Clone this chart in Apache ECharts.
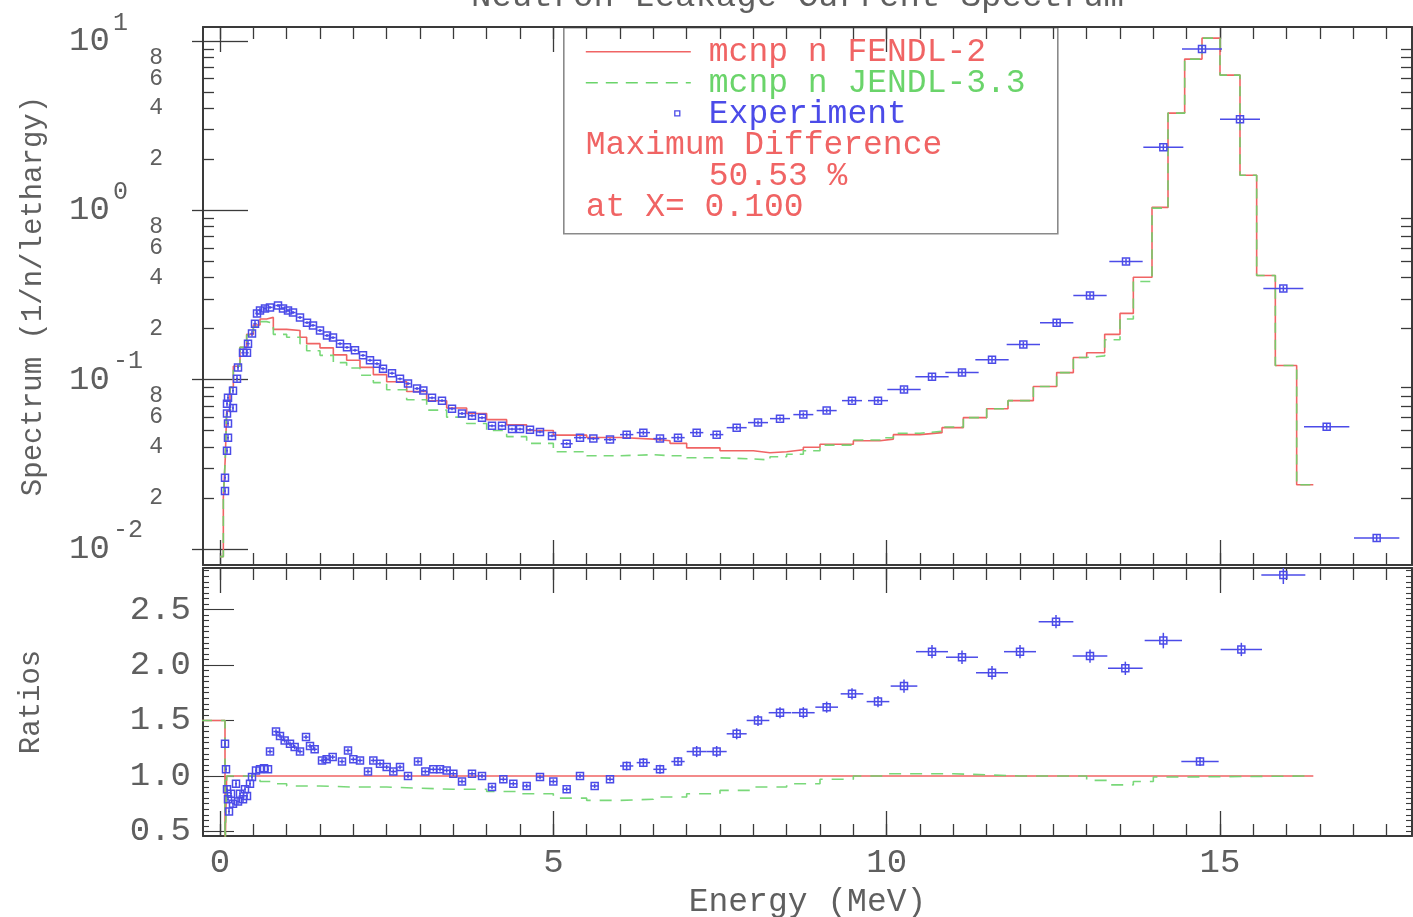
<!DOCTYPE html>
<html><head><meta charset="utf-8">
<script src="https://cdn.jsdelivr.net/npm/echarts@6/dist/echarts.min.js"></script>
<style>html,body{margin:0;padding:0;background:#fff}#c{width:1413px;height:917px}</style>
</head><body><div id="c"></div>
<script>
// ---------- data ----------
const binEdges = [0,0.05,0.08,0.1,0.15,0.2,0.3,0.4,0.5,0.6,0.7,0.8,1.0,1.2,1.3,1.5,1.7,1.9,2.1,2.3,2.5,2.8,3.1,3.4,3.7,4.0,4.3,4.6,5.0,5.5,6.0,6.5,6.75,7.0,7.5,8.0,8.25,8.5,8.75,9.0,9.5,9.9,10.1,10.5,10.83,11.15,11.5,11.82,12.2,12.55,12.8,13.0,13.27,13.5,13.7,13.98,14.22,14.47,14.73,15.0,15.3,15.55,15.83,16.15,16.4];
const fendl = [0.009,0.02,0.035,0.065,0.09,0.12,0.155,0.185,0.21,0.228,0.233,0.198,0.195,0.178,0.163,0.154,0.14,0.13,0.118,0.107,0.097,0.085,0.075,0.068,0.063,0.058,0.054,0.05,0.047,0.0455,0.0445,0.0435,0.042,0.0395,0.038,0.037,0.0375,0.0385,0.0398,0.0415,0.0435,0.0445,0.0473,0.0486,0.052,0.0596,0.0673,0.0751,0.091,0.110,0.135,0.144,0.185,0.246,0.402,1.04,3.75,7.82,10.4,6.29,1.61,0.412,0.121,0.0239];
const jendl = [0.009,0.02,0.035,0.065,0.09,0.12,0.155,0.183,0.205,0.22,0.215,0.185,0.178,0.163,0.148,0.139,0.126,0.117,0.106,0.096,0.087,0.076,0.066,0.06,0.055,0.05,0.046,0.042,0.0375,0.0355,0.036,0.0355,0.0355,0.0345,0.034,0.0335,0.035,0.0362,0.038,0.041,0.044,0.0453,0.0482,0.0495,0.0525,0.0596,0.0673,0.0751,0.091,0.110,0.135,0.138,0.172,0.228,0.38,1.03,3.75,7.82,10.4,6.29,1.61,0.412,0.121,0.0239];

const ratioEdges = [-0.3,0.075,0.1,0.6,0.8,1.0,1.5,2.0,2.5,3.0,3.5,4.0,4.5,5.0,5.5,6.0,6.5,7.0,7.5,8.0,8.5,9.0,9.5,10.0,10.5,11.0,11.5,12.0,12.5,13.0,13.3,13.7,14.0,14.3,16.4];
const fendlRatio = [1.5,0.3,1,1,1,1,1,1,1,1,1,1,1,1,1,1,1,1,1,1,1,1,1,1,1,1,1,1,1,1,1,1,1,1];
const jendlRatio = [1.5,0.3,1.0,0.95,0.93,0.91,0.9,0.9,0.89,0.88,0.88,0.86,0.84,0.80,0.78,0.79,0.81,0.84,0.87,0.9,0.93,0.97,1.0,1.02,1.02,1.01,1.0,1.0,1.0,0.96,0.92,0.95,0.99,1.0];

const expE = [0.075,0.075,0.105,0.12,0.12,0.105,0.105,0.12,0.195,0.195,0.255,0.27,0.345,0.405,0.42,0.48,0.525,0.555,0.6,0.675,
  0.75,0.87,0.945,1.02,1.095,1.2,1.305,1.395,1.5,1.605,1.695,1.8,1.905,2.025,2.145,2.25,2.355,2.445,2.58,2.7,2.82,2.955,3.05,
  3.18,3.33,3.48,3.63,3.78,3.93,4.08,4.23,4.38,4.5,4.65,4.8,4.98,
  5.2,5.4,5.6,5.85,
  6.1,6.35,6.6,6.87,7.15,7.45,7.75,8.07,8.4,8.75,9.1,9.48,9.87,
  10.26,10.68,11.13,11.58,12.05,12.55,13.05,13.59,
  14.15,14.73,15.3,15.95,16.6,17.35];
const expV = [0.022,0.0263,0.038,0.0454,0.055,0.063,0.072,0.078,0.068,0.086,0.101,0.118,0.144,0.144,0.163,0.187,0.214,0.246,0.256,0.263,
  0.267,0.274,0.263,0.256,0.249,0.233,0.217,0.209,0.195,0.182,0.177,0.163,0.155,0.149,0.139,0.130,0.124,0.116,0.109,0.101,0.0947,0.0885,0.0861,
  0.078,0.0751,0.0673,0.063,0.0612,0.0595,0.0533,0.0533,0.051,0.051,0.0505,0.0491,0.0465,
  0.0418,0.0454,0.0448,0.0442,
  0.0473,0.0486,0.0448,0.0454,0.0486,0.0473,0.052,0.0557,0.0588,0.0621,0.0656,0.0751,0.0751,
  0.0873,0.104,0.110,0.131,0.161,0.217,0.314,0.499,
  2.36,8.97,3.45,0.345,0.0527,0.0116];
const expDx = [0.015,0.015,0.015,0.015,0.015,0.015,0.015,0.015,0.015,0.015,0.015,0.015,0.025,0.025,0.025,0.025,0.025,0.025,0.025,0.025,
  0.04,0.04,0.04,0.04,0.04,0.04,0.04,0.04,0.04,0.04,0.04,0.04,0.04,0.04,0.04,0.04,0.04,0.04,0.04,0.04,0.04,0.04,0.04,
  0.06,0.06,0.06,0.06,0.06,0.06,0.06,0.06,0.06,0.06,0.06,0.06,0.06,
  0.09,0.09,0.09,0.09,
  0.1,0.1,0.1,0.1,0.1,0.1,0.15,0.15,0.15,0.15,0.15,0.15,0.15,
  0.25,0.25,0.25,0.25,0.25,0.25,0.25,0.25,
  0.3,0.3,0.3,0.3,0.34,0.34];
const expErr = [0.04,0.04,0.04,0.04,0.04,0.04,0.04,0.04,0.04,0.04,0.04,0.04,0.04,0.04,0.04,0.04,0.04,0.04,0.04,0.04,
  0.02,0.02,0.02,0.02,0.02,0.02,0.02,0.02,0.02,0.02,0.02,0.02,0.02,0.02,0.02,0.02,0.02,0.02,0.02,0.02,0.02,0.02,0.02,
  0.02,0.02,0.02,0.02,0.02,0.02,0.02,0.02,0.02,0.02,0.02,0.02,0.02,
  0.02,0.02,0.02,0.02,
  0.03,0.03,0.03,0.03,0.03,0.03,0.03,0.03,0.03,0.03,0.03,0.03,0.03,
  0.04,0.04,0.04,0.04,0.04,0.04,0.04,0.04,
  0.04,0.04,0.04,0.04,0.04,0.04];

const ratE = [0.075,0.09,0.105,0.12,0.135,0.165,0.195,0.24,0.27,0.3,0.345,0.375,0.405,0.45,0.48,0.54,0.6,0.66,0.72,
  0.75,0.84,0.9,0.97,1.05,1.12,1.2,1.29,1.35,1.42,1.53,1.6,1.69,1.83,1.92,2.0,2.1,2.22,2.3,2.4,2.5,2.6,2.7,2.82,2.97,
  3.08,3.2,3.3,3.4,3.5,3.63,3.78,3.93,4.08,4.25,4.4,4.6,4.8,5.0,5.2,5.4,5.62,5.85,
  6.1,6.35,6.6,6.87,
  7.15,7.45,7.75,8.07,8.4,8.75,9.1,9.48,9.87,10.26,
  10.68,11.13,11.58,12.0,12.54,13.05,13.58,
  14.15,14.7,15.32,15.95];
const ratV = [1.29,1.06,0.88,0.79,0.68,0.84,0.75,0.93,0.77,0.84,0.79,0.88,0.82,0.93,0.99,1.05,1.06,1.07,1.06,
  1.22,1.40,1.36,1.32,1.29,1.26,1.22,1.35,1.27,1.24,1.14,1.15,1.17,1.13,1.23,1.15,1.14,1.04,1.14,1.11,1.08,1.04,1.08,1.00,1.13,
  1.04,1.06,1.06,1.05,1.02,0.95,1.02,1.00,0.90,0.97,0.93,0.91,0.99,0.95,0.88,1.00,0.91,0.97,
  1.09,1.12,1.06,1.13,
  1.22,1.22,1.38,1.50,1.57,1.57,1.62,1.74,1.67,1.81,
  2.12,2.07,1.93,2.12,2.39,2.08,1.97,
  2.22,1.13,2.14,2.81];
const ratDx = [0.015,0.015,0.015,0.015,0.015,0.015,0.015,0.015,0.015,0.015,0.015,0.015,0.015,0.015,0.015,0.015,0.015,0.015,0.015,
  0.04,0.04,0.04,0.04,0.04,0.04,0.04,0.04,0.04,0.04,0.04,0.04,0.04,0.04,0.04,0.04,0.04,0.04,0.04,0.04,0.04,0.04,0.04,0.04,0.04,
  0.06,0.06,0.06,0.06,0.06,0.06,0.06,0.06,0.06,0.06,0.06,0.06,0.06,0.06,0.06,0.06,0.06,0.06,
  0.1,0.1,0.1,0.1,
  0.15,0.15,0.15,0.17,0.17,0.17,0.17,0.17,0.17,0.2,
  0.24,0.24,0.24,0.24,0.26,0.26,0.26,
  0.28,0.28,0.31,0.33];
const ratErr = [0.03,0.03,0.03,0.03,0.03,0.03,0.03,0.03,0.03,0.03,0.03,0.03,0.03,0.03,0.03,0.03,0.03,0.03,0.03,
  0.02,0.02,0.02,0.02,0.02,0.02,0.02,0.02,0.02,0.02,0.02,0.02,0.02,0.02,0.02,0.02,0.02,0.02,0.02,0.02,0.02,0.02,0.02,0.02,0.02,
  0.02,0.02,0.02,0.02,0.02,0.02,0.02,0.02,0.02,0.02,0.02,0.02,0.02,0.02,0.02,0.02,0.02,0.02,
  0.04,0.04,0.04,0.04,
  0.05,0.05,0.05,0.05,0.05,0.05,0.05,0.05,0.05,0.06,
  0.06,0.06,0.06,0.06,0.06,0.06,0.06,
  0.07,0.04,0.06,0.08];

const xLabelValues = [0,5,10,15];
const xMajorTicks = [0,5,10,15];
const yMajorTicks = [0.01,0.1,1,10];
const yLabelValues = [0.01,0.02,0.04,0.06,0.08,0.1,0.2,0.4,0.6,0.8,1,2,4,6,8,10];
const ratioLabelValues = [0.5,1.0,1.5,2.0,2.5];

const titleText = 'Neutron Leakage Current Spectrum';
const legendTexts = ['mcnp n FENDL-2','mcnp n JENDL-3.3','Experiment'];
const noteTexts = ['Maximum Difference','50.53 %','at X= 0.100'];

// ---------- style ----------
const FONT = 'Liberation Mono';
const FRAME = '#3a3a3a';
const RED = '#f06464', GREEN = '#6ad46a', BLUE = '#4b4be8', GREY = '#5f5f5f';
const X_MIN = -0.255, X_MAX = 17.88;
const Y_MIN = 0.00803, Y_MAX = 12.1;
const R_MIN = 0.459, R_MAX = 2.874;

const xMinorTicks = []; for (let v = 0; v <= 17.5 + 1e-9; v += 0.5) xMinorTicks.push(+v.toFixed(2));
const yMinorTicks = []; [0.01,0.1,1].forEach(d => { for (let k = 2; k <= 9; k++) yMinorTicks.push(+(k*d).toPrecision(3)); });
const rMinorTicks = []; for (let v = 0.5; v <= 2.85; v += 0.05) rMinorTicks.push(+v.toFixed(2));

function xAx(grid, pos, ticks, len, extra) {
  return Object.assign({
    type: 'value', gridIndex: grid, position: pos, min: X_MIN, max: X_MAX,
    axisLine: {show: true, onZero: false, lineStyle: {color: FRAME, width: 2}},
    axisTick: {show: true, inside: true, length: len, customValues: ticks, lineStyle: {color: FRAME, width: 1.3}},
    axisLabel: {show: false}, splitLine: {show: false}
  }, extra || {});
}
function yLog(pos, ticks, len, extra) {
  return Object.assign({
    type: 'log', logBase: 10, gridIndex: 0, position: pos, min: Y_MIN, max: Y_MAX,
    axisLine: {show: true, onZero: false, lineStyle: {color: FRAME, width: 2}},
    axisTick: {show: true, inside: true, length: len, customValues: ticks, lineStyle: {color: FRAME, width: 1.3}},
    axisLabel: {show: false}, splitLine: {show: false}
  }, extra || {});
}
function yRat(pos, ticks, len, extra) {
  return Object.assign({
    type: 'value', gridIndex: 1, position: pos, min: R_MIN, max: R_MAX,
    axisLine: {show: true, onZero: false, lineStyle: {color: FRAME, width: 2}},
    axisTick: {show: true, inside: true, length: len, customValues: ticks, lineStyle: {color: FRAME, width: 1.1}},
    axisLabel: {show: false}, splitLine: {show: false}
  }, extra || {});
}

function errRender(isLog, color) {
  return function (params, api) {
    const x = api.value(0), dx = api.value(1), y = api.value(2), e = api.value(3);
    const c = api.coord([x, y]);
    const l = api.coord([x - dx, y]), r = api.coord([x + dx, y]);
    const yt = isLog ? y * (1 + e) : y + e, yb = isLog ? y * (1 - e) : y - e;
    const t = api.coord([x, yt]), b = api.coord([x, yb]);
    const st = {stroke: color, lineWidth: 1.5, fill: null};
    return {type: 'group', children: [
      {type: 'line', shape: {x1: l[0], y1: c[1], x2: r[0], y2: c[1]}, style: st},
      {type: 'line', shape: {x1: c[0], y1: t[1], x2: c[0], y2: b[1]}, style: st},
      {type: 'rect', shape: {x: c[0] - 3.5, y: c[1] - 3.5, width: 7, height: 7}, style: {stroke: color, lineWidth: 1.5, fill: 'rgba(0,0,0,0)'}}
    ]};
  };
}

const stepData = (edges, vals) => edges.map((e, i) => [e, vals[Math.min(i, vals.length - 1)]]);

const chart = echarts.init(document.getElementById('c'), null, {renderer: 'canvas'});
const option = {
  animation: false,
  backgroundColor: '#fff',
  textStyle: {fontFamily: FONT},
  grid: [
    {left: 203, right: 1, top: 27, height: 538, containLabel: false, outerBoundsMode: 'none'},
    {left: 203, right: 1, top: 568, height: 268, containLabel: false, outerBoundsMode: 'none'}
  ],
  xAxis: [
    xAx(0, 'bottom', xMinorTicks, 12),
    xAx(0, 'bottom', xMajorTicks, 25, {axisLine: {show: false}}),
    xAx(0, 'top', xMinorTicks, 12),
    xAx(0, 'top', xMajorTicks, 25, {axisLine: {show: false}}),
    xAx(1, 'bottom', xMinorTicks, 12),
    xAx(1, 'bottom', xMajorTicks, 25, {
      axisLine: {show: false},
      axisLabel: {show: true, customValues: xLabelValues, margin: 10, color: GREY, fontFamily: FONT, fontSize: 34},
      name: 'Energy (MeV)', nameLocation: 'middle', nameGap: 50,
      nameTextStyle: {color: GREY, fontFamily: FONT, fontSize: 33}
    }),
    xAx(1, 'top', xMinorTicks, 12),
    xAx(1, 'top', xMajorTicks, 25, {axisLine: {show: false}})
  ],
  yAxis: [
    yLog('left', yMinorTicks, 11),
    yLog('left', yMajorTicks, 28, {
      axisLine: {show: false},
      axisLabel: {
        show: true, customValues: yLabelValues, margin: 40, color: GREY, fontFamily: FONT, align: 'right',
        formatter: function (v) {
          const e = Math.log10(v), re = Math.round(e);
          if (Math.abs(e - re) < 1e-6) return '{b|10}{e|' + re + '}';
          return '{m|' + Math.round(v / Math.pow(10, Math.floor(e + 1e-9))) + '}';
        },
        rich: {
          b: {fontSize: 34, width: 44, fontFamily: FONT, color: GREY, align: 'left'},
          e: {fontSize: 25, width: 50, fontFamily: FONT, color: GREY, align: 'left', padding: [0, 0, 36, 0]},
          m: {fontSize: 23, fontFamily: FONT, color: GREY}
        }
      },
      name: 'Spectrum (1/n/lethargy)', nameLocation: 'middle', nameGap: 155, nameRotate: 90,
      nameTextStyle: {color: GREY, fontFamily: FONT, fontSize: 29}
    }),
    yLog('right', yMinorTicks, 11),
    yLog('right', yMajorTicks, 28, {axisLine: {show: false}}),
    yRat('left', rMinorTicks, 6),
    yRat('left', ratioLabelValues, 14, {
      axisLine: {show: false},
      axisLabel: {show: true, customValues: ratioLabelValues, margin: 12, color: GREY, fontFamily: FONT, fontSize: 34,
        formatter: v => v.toFixed(1)},
      name: 'Ratios', nameLocation: 'middle', nameGap: 157, nameRotate: 90,
      nameTextStyle: {color: GREY, fontFamily: FONT, fontSize: 29}
    }),
    yRat('right', rMinorTicks, 6),
    yRat('right', ratioLabelValues, 14, {axisLine: {show: false}})
  ],
  series: [
    {name: legendTexts[0], type: 'line', xAxisIndex: 0, yAxisIndex: 0, step: 'end', symbol: 'none',
      data: stepData(binEdges, fendl), lineStyle: {color: RED, width: 1.6}, z: 2},
    {name: legendTexts[1], type: 'line', xAxisIndex: 0, yAxisIndex: 0, step: 'end', symbol: 'none',
      data: stepData(binEdges, jendl), lineStyle: {color: GREEN, width: 1.6, type: [10, 7], opacity: 0.9}, z: 3},
    {name: legendTexts[2], type: 'custom', xAxisIndex: 0, yAxisIndex: 0, clip: true, z: 4,
      renderItem: errRender(true, BLUE),
      data: expE.map((e, i) => [e, expDx[i], expV[i], expErr[i]])},
    {name: legendTexts[0] + ' ratio', type: 'line', xAxisIndex: 4, yAxisIndex: 4, step: 'end', symbol: 'none',
      data: stepData(ratioEdges, fendlRatio), lineStyle: {color: RED, width: 1.6}, z: 2},
    {name: legendTexts[1] + ' ratio', type: 'line', xAxisIndex: 4, yAxisIndex: 4, step: 'end', symbol: 'none',
      data: stepData(ratioEdges, jendlRatio), lineStyle: {color: GREEN, width: 1.6, type: [12, 9], opacity: 0.9}, z: 3},
    {name: legendTexts[2] + ' ratio', type: 'custom', xAxisIndex: 4, yAxisIndex: 4, clip: true, z: 4,
      renderItem: errRender(false, BLUE),
      data: ratE.map((e, i) => [e, ratDx[i], ratV[i], ratErr[i]])}
  ],
  graphic: [
    {type: 'text', left: 807 - 336, top: -20, style: {text: titleText, fill: GREY, font: '34px "' + FONT + '"'}},
    {type: 'group', left: 563, top: 27, children: [
      {type: 'rect', shape: {x: 0, y: 0, width: 494, height: 206}, style: {fill: '#fff', stroke: '#8a8a8a', lineWidth: 1.6}},
      {type: 'line', shape: {x1: 22, y1: 24, x2: 127, y2: 24}, style: {stroke: RED, lineWidth: 1.6}},
      {type: 'line', shape: {x1: 22, y1: 55, x2: 127, y2: 55}, style: {stroke: GREEN, lineWidth: 1.6, lineDash: [12, 8]}},
      {type: 'rect', shape: {x: 111, y: 83, width: 5, height: 5}, style: {stroke: BLUE, fill: 'rgba(0,0,0,0)', lineWidth: 1.3}},
      {type: 'text', x: 145, y: 24, style: {text: legendTexts[0], fill: RED, font: '33px "' + FONT + '"', verticalAlign: 'middle'}},
      {type: 'text', x: 145, y: 55, style: {text: legendTexts[1], fill: GREEN, font: '33px "' + FONT + '"', verticalAlign: 'middle'}},
      {type: 'text', x: 145, y: 86, style: {text: legendTexts[2], fill: BLUE, font: '33px "' + FONT + '"', verticalAlign: 'middle'}},
      {type: 'text', x: 22, y: 117, style: {text: noteTexts[0], fill: RED, font: '33px "' + FONT + '"', verticalAlign: 'middle'}},
      {type: 'text', x: 145, y: 148, style: {text: noteTexts[1], fill: RED, font: '33px "' + FONT + '"', verticalAlign: 'middle'}},
      {type: 'text', x: 22, y: 179, style: {text: noteTexts[2], fill: RED, font: '33px "' + FONT + '"', verticalAlign: 'middle'}}
    ]}
  ]
};
chart.setOption(option);
</script></body></html>
